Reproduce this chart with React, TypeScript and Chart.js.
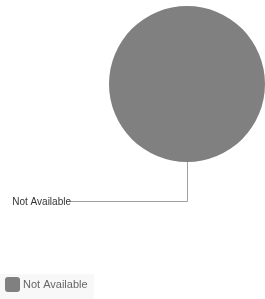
import React, { useEffect, useRef } from "react";
import { Chart, registerables } from "chart.js";

Chart.register(...registerables);

const categories: string[] = ["Not Available"];
const values: number[] = [100];
const colors: string[] = ["#808080"];

const labelPlugin = {
  id: "leaderLabel",
  afterDraw(chart: any) {
    const ctx = chart.ctx as CanvasRenderingContext2D;
    const meta = chart.getDatasetMeta(0);
    const arc = meta.data[0] as any;
    if (!arc) return;
    const cx = arc.x;
    const cy = arc.y;
    const r = arc.outerRadius;
    const elbowY = 201;
    const endX = 70;
    ctx.save();
    ctx.strokeStyle = "#a0a0a0";
    ctx.lineWidth = 1;
    ctx.beginPath();
    ctx.moveTo(Math.round(cx) + 0.5, cy + r);
    ctx.lineTo(Math.round(cx) + 0.5, elbowY + 0.5);
    ctx.lineTo(endX, elbowY + 0.5);
    ctx.stroke();
    ctx.font = "10px 'Liberation Sans', Arial, sans-serif";
    ctx.fillStyle = "#333333";
    ctx.textAlign = "right";
    ctx.textBaseline = "middle";
    ctx.fillText(categories[0], endX + 1, elbowY + 1);
    ctx.restore();

    // legend
    ctx.save();
    ctx.fillStyle = "#f8f8f8";
    ctx.fillRect(0, 274, 94, 25);
    categories.forEach((c, i) => {
      const x = 5;
      const y = 277;
      ctx.fillStyle = colors[i];
      ctx.beginPath();
      (ctx as any).roundRect(x, y, 15, 15, 3);
      ctx.fill();
      ctx.font = "11px 'Liberation Sans', Arial, sans-serif";
      ctx.fillStyle = "#666666";
      ctx.textAlign = "left";
      ctx.textBaseline = "middle";
      ctx.fillText(c, 23, y + 8);
    });
    ctx.restore();
  },
};

export default function App() {
  const ref = useRef<HTMLCanvasElement>(null);
  useEffect(() => {
    if (!ref.current) return;
    const chart = new Chart(ref.current, {
      type: "pie",
      data: {
        labels: categories,
        datasets: [
          {
            data: values,
            backgroundColor: colors,
            borderWidth: 0,
          },
        ],
      },
      options: {
        responsive: false,
        animation: false,
        layout: { padding: { left: 109, top: 6, right: 0, bottom: 137 } },
        plugins: {
          legend: { display: false },
          tooltip: { enabled: false },
        },
      },
      plugins: [labelPlugin],
    });
    return () => chart.destroy();
  }, []);
  return (
    <div style={{ position: "fixed", left: 0, top: 0, width: 265, height: 299, background: "#fff" }}>
      <canvas ref={ref} width={265} height={299} style={{ width: 265, height: 299 }} />
    </div>
  );
}
